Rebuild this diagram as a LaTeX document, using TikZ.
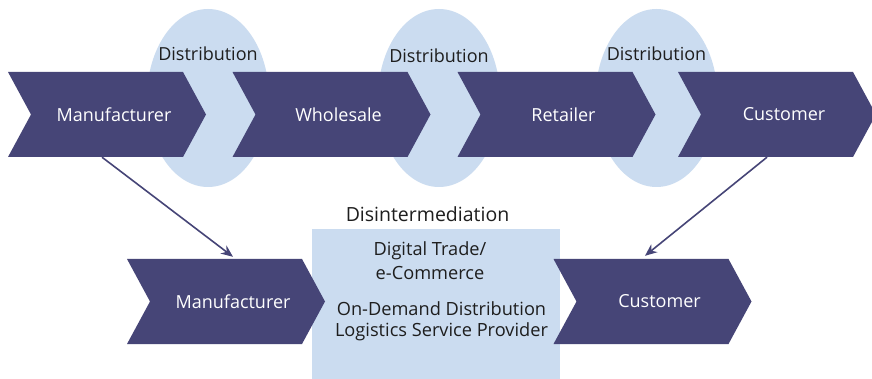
\documentclass[tikz,border=0pt]{standalone}
\usepackage{fontspec}
\setmainfont{Open Sans}
\usetikzlibrary{shapes.geometric,arrows.meta}
\definecolor{chevcol}{HTML}{464577}
\definecolor{lb}{HTML}{CBDCF0}
\definecolor{txt}{HTML}{1E1E1E}
\tikzset{
  chev/.style={minimum width=198pt, minimum height=85pt, inner sep=0pt, draw=none,
    path picture={\fill[chevcol] (path picture bounding box.north west)
      -- ([xshift=-23pt]path picture bounding box.north east)
      -- (path picture bounding box.east)
      -- ([xshift=-23pt]path picture bounding box.south east)
      -- (path picture bounding box.south west)
      -- ([xshift=23pt]path picture bounding box.west) -- cycle;}},
  chevtext/.style={text=white, font=\fontsize{18}{21}\selectfont, inner sep=0pt},
  oval/.style={ellipse, fill=lb, minimum width=122pt, minimum height=178pt, inner sep=0pt},
  lbl/.style={text=txt, font=\fontsize{18}{21}\selectfont, inner sep=0pt},
  boxlbl/.style={text=txt, font=\fontsize{18.2}{21}\selectfont, inner sep=0pt},
  arr/.style={draw=chevcol, line width=1.6pt, -{Stealth[length=12pt,width=10pt]}}
}
\begin{document}
\begin{tikzpicture}[x=1pt,y=-1pt]
\clip (0,0) rectangle (872,379);
\fill[white] (0,0) rectangle (872,379);
% ovals
\node[oval] (e1) at (208,98) {};
\node[oval] (e2) at (439,98) {};
\node[oval] (e3) at (656.5,98) {};
\node[lbl] (d1) at (208,54) {Distribution};
\node[lbl] (d2) at (439,56) {Distribution};
\node[lbl] (d3) at (656.5,54) {Distribution};
% top chevrons
\node[chev] (c1) at (107,114.5) {};
\node[chev] (c2) at (331.5,114.5) {};
\node[chev] (c3) at (556.5,114.5) {};
\node[chev] (c4) at (777,114.5) {};
\node[chevtext] (t1) at ([xshift=7pt]c1.center) {Manufacturer};
\node[chevtext] (t2) at ([xshift=7pt]c2.center) {Wholesale};
\node[chevtext] (t3) at ([xshift=7pt]c3.center) {Retailer};
\node[chevtext] (t4) at ([xshift=7pt]c4.center) {Customer};
% bottom box
\node[fill=lb, minimum width=248pt, minimum height=160pt, inner sep=0pt, anchor=north west] (box) at (312,229) {};
\node[lbl, font=\fontsize{19.5}{23}\selectfont] (dis) at (427.5,214) {Disintermediation};
\node[boxlbl] (b1t) at (430,251) {Digital Trade/};
\node[boxlbl] (b2t) at (430,273) {e-Commerce};
\node[boxlbl] (b3t) at (441.5,309) {On-Demand Distribution};
\node[boxlbl] (b4t) at (441.5,332) {Logistics Service Provider};
% bottom chevrons
\node[chev] (b1) at (226,301.5) {};
\node[chev] (b2) at (652.5,301.5) {};
\node[chevtext] (u1) at ([xshift=7pt]b1.center) {Manufacturer};
\node[chevtext] (u2) at ([xshift=7pt]b2.center) {Customer};
% arrows
\draw[arr] ([xshift=-5pt]c1.south) -- ([xshift=7pt,yshift=2pt]b1.north);
\draw[arr] ([xshift=-10pt]c4.south) -- ([xshift=-7.5pt,yshift=3pt]b2.north);
\end{tikzpicture}
\end{document}
